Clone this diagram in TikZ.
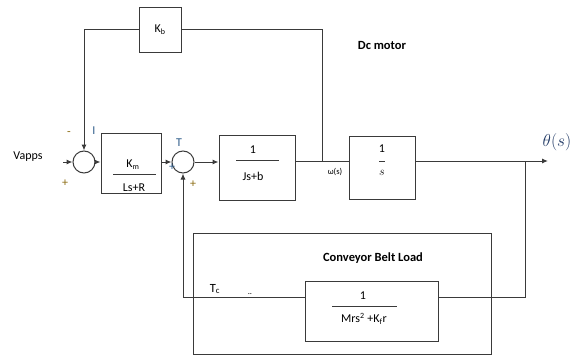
\documentclass[tikz,border=0pt]{standalone}
\usepackage{fontspec}
\setmainfont{Carlito}
\usetikzlibrary{arrows.meta}
\definecolor{lncol}{HTML}{3A3A3A}
\definecolor{signcol}{HTML}{8A6A10}
\definecolor{bluet}{HTML}{2E5C8A}
\definecolor{navy}{HTML}{1F3864}
\begin{document}
\begin{tikzpicture}[x=1pt,y=-1pt,
  ln/.style={draw=lncol, line width=1pt},
  blk/.style={draw=lncol, line width=1pt, rectangle, inner sep=0pt},
  sumj/.style={draw=lncol, line width=1pt, circle, minimum size=22pt, inner sep=0pt},
  arr/.style={draw=lncol, line width=1pt, -{Latex[length=6pt,width=5pt]}},
  lbl/.style={inner sep=0pt, font=\fontsize{12}{14}\selectfont},
  sml/.style={inner sep=0pt, font=\fontsize{8.5}{10}\selectfont},
  bld/.style={inner sep=0pt, font=\fontsize{12.5}{14}\selectfont\bfseries},
  fbar/.style={draw=lncol, line width=0.9pt},
]
\useasboundingbox (0,0) rectangle (581,356);
% outer load box
\node[blk, minimum width=298pt, minimum height=121pt] (load) at (342,293.5) {};
% blocks
\node[blk, minimum width=42pt, minimum height=45pt, font=\fontsize{12}{14}\selectfont] (kb) at (160,29.5) {K\textsubscript{b}};
\node[sumj] (s1) at (84,162) {};
\node[blk, minimum width=60pt, minimum height=60pt] (km) at (131,163.5) {};
\node[sumj] (s2) at (183,162) {};
\node[blk, minimum width=76pt, minimum height=65pt] (jb) at (257,167.5) {};
\node[blk, minimum width=66pt, minimum height=63pt] (is) at (382,167.5) {};
\node[blk, minimum width=133pt, minimum height=60pt] (inner) at (371.5,311) {};
% fraction contents
\node[lbl] (kmn) at (133,165) {K\textsubscript{m}};
\draw[fbar] (113,174) -- (156,174);
\node[lbl] (kmd) at (134,188) {Ls+R};
\node[lbl] (jbn) at (253,150) {1};
\draw[fbar] (236,160) -- (279,160);
\node[lbl] (jbd) at (253,176) {Js+b};
\node[lbl] (isn) at (382,149) {1};
\draw[fbar] (379,161) -- (385,161);
\node[lbl] (isd) at (382,173) {$s$};
\node[lbl] (inn) at (363,296) {1};
\draw[fbar] (332,306) -- (397,306);
\node[lbl] (ind) at (364,319) {Mrs\textsuperscript{2} +K\textsubscript{f}r};
% coordinates
\coordinate (vin) at (63,162);
\coordinate (w) at (322,161);
\coordinate (outp) at (548,161);
\coordinate (tap) at (525,161);
\coordinate (ldR) at (525,297);
\coordinate (ldL) at (183,297);
% connectors
\draw[arr] (vin) -- (s1.west);
\draw[arr] (s1.east) -- (km.west |- s1.east);
\draw[arr] (km.east |- s2.west) -- (s2.west);
\draw[arr] (s2.east) -- (jb.west |- s2.east);
\draw[ln] (jb.east |- w) -- (is.west |- w);
\draw[ln] (w) |- (kb.east);
\draw[arr] (kb.west) -| (s1.north);
\draw[arr] (is.east |- w) -- (outp);
\draw[ln] (tap) -- (ldR) -- (inner.east |- ldR);
\draw[arr] (inner.west |- ldL) -| (s2.south);
% labels
\node[lbl] (vapps) at (28,157) {Vapps};
\node[lbl, text=signcol] (m1) at (69,134) {-};
\node[lbl, text=signcol] (p1) at (65,183) {+};
\node[lbl, text=bluet] (ilbl) at (94,131) {I};
\node[lbl, text=bluet] (tlbl) at (179,143) {T};
\node[lbl, text=bluet] (p2) at (172,167) {+};
\node[lbl, text=signcol] (p3) at (193,184) {+};
\node[sml] (wlbl) at (335,172) {ω(s)};
\node[bld] (dcm) at (382,45) {Dc motor};
\node[bld] (cbl) at (373,258) {Conveyor Belt Load};
\node[inner sep=0pt, text=navy, font=\fontsize{18}{20}\selectfont] (theta) at (557,142) {$\theta(s)$};
\node[lbl, font=\fontsize{12.5}{14}\selectfont] (tc) at (215,289) {T\textsubscript{c}};
\node[sml] (dots) at (250,294) {..};
\end{tikzpicture}
\end{document}
